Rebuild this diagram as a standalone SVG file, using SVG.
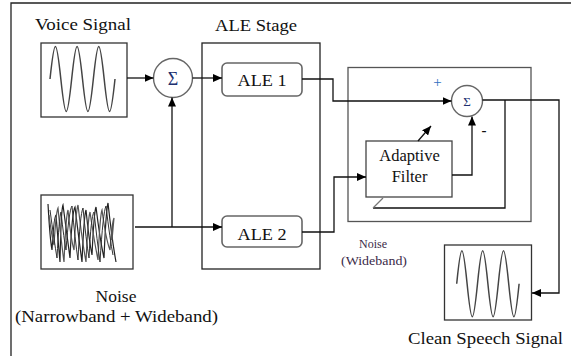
<svg xmlns="http://www.w3.org/2000/svg" width="571" height="356" viewBox="0 0 571 356">
<style>
text{font-family:"Liberation Serif","Times New Roman",serif;fill:#111}
.lbl{font-size:17.5px}
.box{fill:#fff;stroke:#333;stroke-width:1.3}
.ale{fill:#fff;stroke:#666;stroke-width:1.6}
.circ{fill:#fff;stroke:#666;stroke-width:1.4}
.frame{fill:none;stroke:#222;stroke-width:1.3}
.con{fill:none;stroke:#111;stroke-width:1.3}
.wave{fill:none;stroke:#444;stroke-width:1.5}
.sig{font-size:18px;fill:#203070}
</style>
<defs>
<marker id="ah" markerUnits="userSpaceOnUse" markerWidth="9" markerHeight="8" refX="9" refY="4" orient="auto">
<path d="M0,0 L9,4 L0,8 z" fill="#000"/>
</marker>
</defs>
<rect width="571" height="356" fill="#fff"/>
<path class="frame" d="M11,360 V3 H575"/>

<g id="voice-signal">
<text class="lbl" x="35" y="30" textLength="96" lengthAdjust="spacingAndGlyphs">Voice Signal</text>
<rect class="box" x="41" y="43" width="86" height="74"/>
<path class="wave" d="M50,79
c 1.766,-16.64 3.613,-32.5 5.417,-32.5 c 1.804,0 3.651,15.86 5.417,32.5 c 1.766,16.64 3.613,32.5 5.417,32.5 c 1.804,0 3.651,-15.86 5.417,-32.5
c 1.766,-16.64 3.613,-32.5 5.417,-32.5 c 1.804,0 3.651,15.86 5.417,32.5 c 1.766,16.64 3.613,32.5 5.417,32.5 c 1.804,0 3.651,-15.86 5.417,-32.5
c 1.766,-16.64 3.613,-32.5 5.417,-32.5 c 1.804,0 3.651,15.86 5.417,32.5 c 1.766,16.64 3.613,32.5 5.417,32.5 c 1.804,0 3.651,-15.86 5.417,-32.5"/>
</g>

<g id="noise">
<rect class="box" x="41" y="195" width="92" height="74"/>
<path fill="none" stroke="#222" stroke-width="1.2" d="M48,204 Q50,240 52,250 Q54,215 56,215 Q58,240 60,262 Q61,210 63,205 Q67,235 70,258 Q72,212 75,207 Q79,240 82,262 Q84,215 86,210 Q89,240 92,255 Q94,212 96,207 Q100,240 104,258 Q106,210 108,203 Q112,240 116,262"/>
<path fill="none" stroke="#555" stroke-width="1.2" d="M49,215 Q52,238 54,245 Q56,212 58,208 Q61,240 64,262 Q66,215 68,210 Q71,240 74,250 Q76,210 78,205 Q82,240 86,262 Q88,218 90,212 Q94,240 98,260 Q100,215 102,210 Q106,240 110,250 Q112,222 114,218 L112,240"/>
<path fill="none" stroke="#333" stroke-width="1" d="M50,210 Q54,240 57,258 Q59,218 61,212 Q64,240 66,250 Q69,210 72,206 Q75,240 78,260 Q80,214 83,208 Q86,240 89,258 Q91,216 94,212 Q97,240 100,262 Q103,212 106,206 Q110,240 113,255"/>
<text class="lbl" x="116" y="302" text-anchor="middle">Noise</text>
<text class="lbl" x="116.5" y="322" text-anchor="middle" textLength="203" lengthAdjust="spacingAndGlyphs">(Narrowband + Wideband)</text>
</g>

<g id="sum1">
<circle class="circ" cx="173" cy="78" r="19.5"/>
<text class="sig" x="173" y="84.5" text-anchor="middle">Σ</text>
</g>

<g id="ale-stage">
<text class="lbl" x="215" y="30.7" textLength="82" lengthAdjust="spacingAndGlyphs">ALE Stage</text>
<rect class="frame" x="202" y="43" width="118" height="226"/>
</g>

<g id="ale1">
<rect class="ale" x="222" y="63" width="80" height="33" rx="5"/>
<text class="lbl" x="237.5" y="86" textLength="49" lengthAdjust="spacingAndGlyphs">ALE 1</text>
</g>

<g id="ale2">
<rect class="ale" x="222" y="216" width="80" height="31" rx="5"/>
<text class="lbl" x="237.5" y="239.5" textLength="49" lengthAdjust="spacingAndGlyphs">ALE 2</text>
</g>

<g id="adaptive-block">
<rect fill="none" stroke="#555" stroke-width="1.3" x="348" y="67.5" width="183" height="154"/>
</g>

<g id="adaptive-filter">
<rect fill="#fff" stroke="#444" stroke-width="1.3" x="366" y="141" width="86" height="56"/>
<text x="409.5" y="161" text-anchor="middle" font-size="16.5">Adaptive</text>
<text x="409.5" y="182" text-anchor="middle" font-size="16.5">Filter</text>
</g>

<g id="sum2">
<circle class="circ" cx="467" cy="101" r="15.5"/>
<text class="sig" x="467" y="105.5" text-anchor="middle" style="font-size:13px">Σ</text>
<text x="437.5" y="87" text-anchor="middle" style="font-size:15px;fill:#2f6fc0">+</text>
<text x="484" y="135" text-anchor="middle" font-size="15" font-weight="bold">-</text>
</g>

<g id="noise-wideband-label">
<text x="373" y="248" text-anchor="middle" font-size="12" style="fill:#3a2a48">Noise</text>
<text x="374" y="265" text-anchor="middle" font-size="12" textLength="66" lengthAdjust="spacingAndGlyphs" style="fill:#3a2a48">(Wideband)</text>
</g>

<g id="clean-speech">
<rect class="box" x="444.5" y="245" width="87" height="75"/>
<path class="wave" d="M456.7,283.7
c 1.695,-16.89 3.468,-33 5.2,-33 c 1.732,0 3.505,16.11 5.2,33 c 1.695,16.89 3.468,33 5.2,33 c 1.732,0 3.505,-16.11 5.2,-33
c 1.695,-16.89 3.468,-33 5.2,-33 c 1.732,0 3.505,16.11 5.2,33 c 1.695,16.89 3.468,33 5.2,33 c 1.732,0 3.505,-16.11 5.2,-33
c 1.695,-16.89 3.468,-33 5.2,-33 c 1.732,0 3.505,16.11 5.2,33 c 1.695,16.89 3.468,33 5.2,33 c 1.732,0 3.505,-16.11 5.2,-33"/>
<text class="lbl" x="408" y="344" textLength="155" lengthAdjust="spacingAndGlyphs">Clean Speech Signal</text>
</g>

<g id="connectors">
<path class="con" d="M127,78 H153.5" marker-end="url(#ah)"/>
<path class="con" d="M192.5,78 H222" marker-end="url(#ah)"/>
<path class="con" d="M135,227 H222" marker-end="url(#ah)"/>
<path class="con" d="M172,227 V97.5" marker-end="url(#ah)"/>
<path class="con" d="M302,79 H333 V101 H451.5" marker-end="url(#ah)"/>
<path class="con" d="M302,232 H334 V177 H366" marker-end="url(#ah)"/>
<path class="con" d="M452,175 H472 V116.5" marker-end="url(#ah)"/>
<path class="con" d="M418,141 L431,126" marker-end="url(#ah)"/>
<path class="con" d="M482.5,100 H559 V293 H532" marker-end="url(#ah)"/>
<path class="con" d="M505,100 V208 H373"/>
<path fill="none" stroke="#777" stroke-width="1.2" d="M373,208 L383,198"/>
</g>
</svg>
